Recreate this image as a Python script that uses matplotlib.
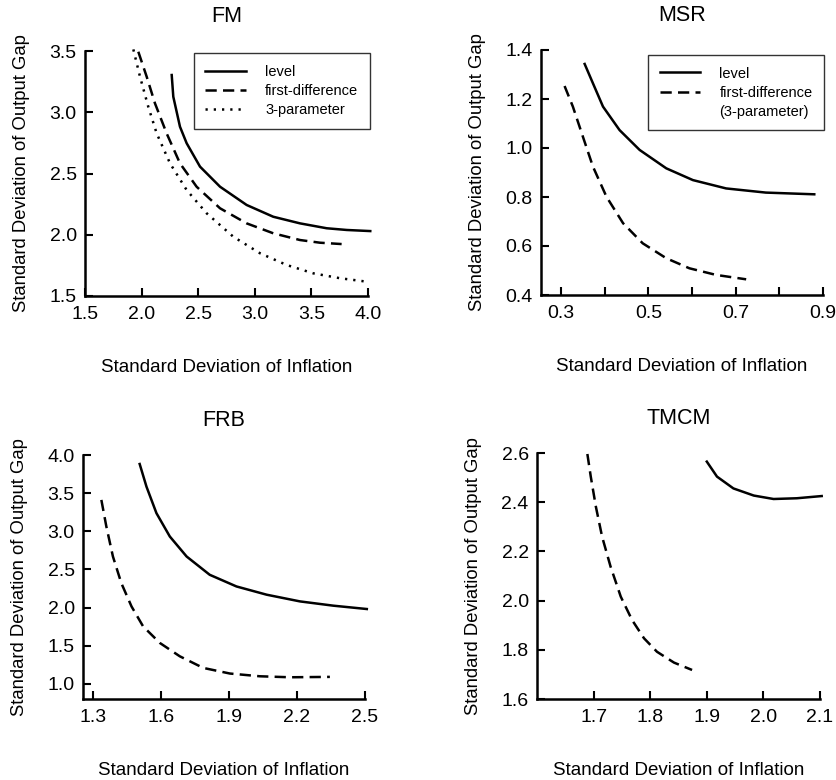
import matplotlib
matplotlib.use("Agg")
import matplotlib.pyplot as plt

plt.rcParams['font.family'] = ['Liberation Sans', 'DejaVu Sans']

# FM
fm_level_x = [2.266, 2.28, 2.339, 2.398, 2.516, 2.693, 2.928, 3.163, 3.399, 3.635, 3.812, 4.02]
fm_level_y = [3.304, 3.127, 2.882, 2.747, 2.556, 2.392, 2.243, 2.147, 2.093, 2.053, 2.039, 2.03]
fm_fd_x = [1.971, 2.045, 2.118, 2.221, 2.339, 2.486, 2.693, 2.928, 3.163, 3.399, 3.576, 3.767]
fm_fd_y = [3.494, 3.29, 3.073, 2.828, 2.583, 2.392, 2.216, 2.093, 2.012, 1.957, 1.935, 1.924]
fm_3p_x = [1.927, 1.986, 2.059, 2.133, 2.251, 2.398, 2.575, 2.81, 3.046, 3.282, 3.517, 3.753, 3.989]
fm_3p_y = [3.513, 3.29, 3.045, 2.828, 2.583, 2.365, 2.175, 1.984, 1.849, 1.753, 1.685, 1.645, 1.617]

# MSR
msr_level_x = [0.354, 0.373, 0.396, 0.434, 0.48, 0.541, 0.602, 0.678, 0.769, 0.88]
msr_level_y = [1.343, 1.264, 1.169, 1.073, 0.992, 0.917, 0.869, 0.835, 0.818, 0.811]
msr_fd_x = [0.308, 0.327, 0.35, 0.373, 0.404, 0.442, 0.487, 0.541, 0.594, 0.655, 0.724]
msr_fd_y = [1.253, 1.169, 1.046, 0.924, 0.801, 0.693, 0.611, 0.55, 0.509, 0.482, 0.464]

# FRB
frb_level_x = [1.506, 1.536, 1.58, 1.639, 1.713, 1.815, 1.933, 2.066, 2.213, 2.36, 2.508]
frb_level_y = [3.882, 3.585, 3.237, 2.931, 2.669, 2.429, 2.276, 2.168, 2.08, 2.024, 1.98]
frb_fd_x = [1.337, 1.359, 1.388, 1.425, 1.47, 1.521, 1.595, 1.683, 1.786, 1.904, 2.036, 2.169, 2.345]
frb_fd_y = [3.411, 3.062, 2.669, 2.32, 2.014, 1.753, 1.535, 1.36, 1.208, 1.134, 1.098, 1.085, 1.09]

# TMCM
tmcm_level_x = [1.90, 1.918, 1.947, 1.983, 2.018, 2.059, 2.103]
tmcm_level_y = [2.565, 2.504, 2.456, 2.427, 2.413, 2.416, 2.425]
tmcm_fd_x = [1.689, 1.695, 1.704, 1.715, 1.73, 1.748, 1.768, 1.789, 1.812, 1.842, 1.874]
tmcm_fd_y = [2.596, 2.504, 2.382, 2.26, 2.138, 2.016, 1.921, 1.847, 1.792, 1.748, 1.718]

W, H = 836, 780
fig = plt.figure(figsize=(W / 100, H / 100), dpi=100)


def make_ax(left, top, right, bottom):
    return fig.add_axes([left / W, 1 - bottom / H, (right - left) / W, (bottom - top) / H])


def style(ax, title, xlim, ylim, xticks, xlabels, yticks):
    ax.set_xlim(*xlim)
    ax.set_ylim(*ylim)
    ax.set_xticks(xticks)
    ax.set_xticklabels(xlabels)
    ax.set_yticks(yticks)
    ax.set_yticklabels([f"{t:.1f}" for t in yticks])
    for s in ['top', 'right']:
        ax.spines[s].set_visible(False)
    for s in ['left', 'bottom']:
        ax.spines[s].set_linewidth(1.8)
    ax.tick_params(direction='in', length=6, width=1.5, labelsize=14, pad=6)
    ax.tick_params(axis='x', pad=7)
    ax.set_title(title, fontsize=15.5, pad=21)
    ax.set_xlabel('Standard Deviation of Inflation', fontsize=13.5, labelpad=26)
    ax.set_ylabel('Standard Deviation of Output Gap', fontsize=13.3, labelpad=14)


def frame_legend(ax, x, y):
    leg = ax.legend(loc='upper right', bbox_to_anchor=(x, y), fontsize=10.5, fancybox=False,
                    edgecolor='black', handlelength=2.8, borderpad=0.8, labelspacing=0.35,
                    handletextpad=1.3, borderaxespad=0)
    leg.get_frame().set_linewidth(1.0)


lw = 1.8
dash = (0, (4.5, 2.5))

ax1 = make_ax(85, 51, 368, 296)
ax1.plot(fm_level_x, fm_level_y, color='black', lw=lw, label='level', clip_on=False)
ax1.plot(fm_fd_x, fm_fd_y, color='black', lw=lw, ls=dash, label='first-difference', clip_on=False)
ax1.plot(fm_3p_x, fm_3p_y, color='black', lw=lw, ls=(0, (0.9, 2.4)), label='3-parameter', clip_on=False)
style(ax1, 'FM', (1.5, 4.0), (1.5, 3.5), [1.5, 2.0, 2.5, 3.0, 3.5, 4.0],
      ['1.5', '2.0', '2.5', '3.0', '3.5', '4.0'], [1.5, 2.0, 2.5, 3.0, 3.5])
frame_legend(ax1, 1.007, 0.992)

ax2 = make_ax(541, 50, 823, 295)
ax2.plot(msr_level_x, msr_level_y, color='black', lw=lw, label='level')
ax2.plot(msr_fd_x, msr_fd_y, color='black', lw=lw, ls=dash, label='first-difference')
ax2.plot([], [], color='none', label='(3-parameter)')
style(ax2, 'MSR', (0.254, 0.9), (0.4, 1.4), [0.3, 0.4, 0.5, 0.6, 0.7, 0.8, 0.9],
      ['0.3', '', '0.5', '', '0.7', '', '0.9'], [0.4, 0.6, 0.8, 1.0, 1.2, 1.4])
frame_legend(ax2, 1.004, 0.98)

ax3 = make_ax(83, 455, 365, 699)
ax3.plot(frb_level_x, frb_level_y, color='black', lw=lw, clip_on=False)
ax3.plot(frb_fd_x, frb_fd_y, color='black', lw=lw, ls=dash)
style(ax3, 'FRB', (1.256, 2.5), (0.8, 4.0), [1.3, 1.6, 1.9, 2.2, 2.5],
      ['1.3', '1.6', '1.9', '2.2', '2.5'], [1.0, 1.5, 2.0, 2.5, 3.0, 3.5, 4.0])

ax4 = make_ax(537, 453, 820, 699)
ax4.plot(tmcm_level_x, tmcm_level_y, color='black', lw=lw, clip_on=False)
ax4.plot(tmcm_fd_x, tmcm_fd_y, color='black', lw=lw, ls=dash)
style(ax4, 'TMCM', (1.6, 2.1), (1.6, 2.6), [1.7, 1.8, 1.9, 2.0, 2.1],
      ['1.7', '1.8', '1.9', '2.0', '2.1'], [1.6, 1.8, 2.0, 2.2, 2.4, 2.6])

fig.savefig('out.png', dpi=100)
